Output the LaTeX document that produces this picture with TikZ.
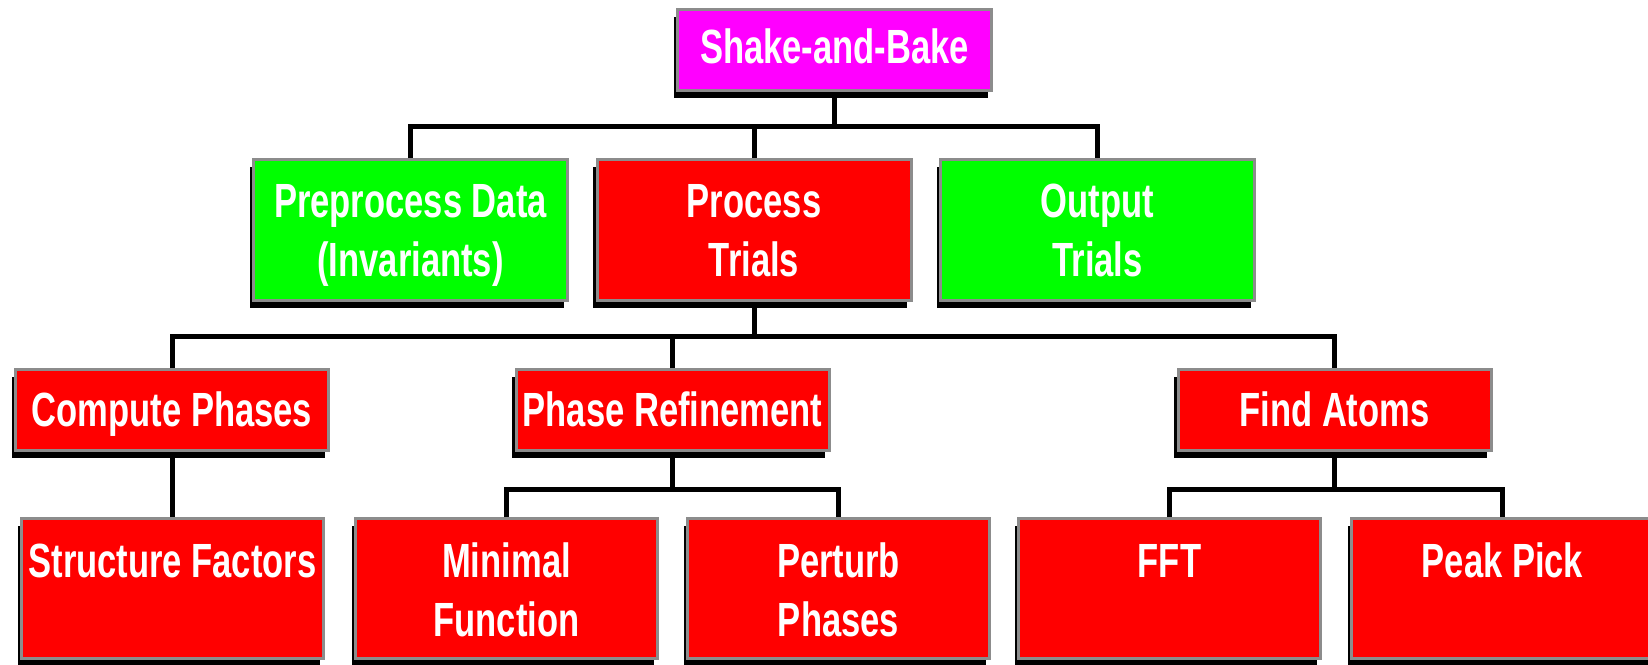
\documentclass[tikz,border=0pt]{standalone}
\usepackage{fontspec}
\newfontfamily\boxfont{Liberation Sans Bold}[FakeStretch=0.72]
\usetikzlibrary{shadows}
\definecolor{mag}{RGB}{255,0,255}
\definecolor{grn}{RGB}{0,255,0}
\definecolor{rd}{RGB}{255,0,0}
\definecolor{bordergray}{RGB}{140,140,140}
% two-line label: top strut height, bottom strut depth
\newcommand{\twolines}[4]{\rule{0pt}{#3}\smash{#1}\\\smash{#2}\rule[-#4]{0pt}{#4}}
\begin{document}
\begin{tikzpicture}[x=1pt,y=-1pt,
  box/.style={draw=bordergray, line width=3pt, text=white,
    font=\boxfont\fontsize{48}{59}\selectfont, align=center, inner sep=0pt,
    drop shadow={shadow xshift=-4pt, shadow yshift=-7pt, fill=black, opacity=1}},
  topbox/.style={box, fill=mag, minimum width=314pt, minimum height=81pt,
    text height=32pt, text depth=6pt},
  lvtwo/.style={box, minimum width=314pt, minimum height=141pt},
  lvthree/.style={box, fill=rd, minimum width=313pt, minimum height=81pt,
    text height=34pt, text depth=2pt},
  lvfour/.style={box, fill=rd, minimum width=302pt, minimum height=140pt},
  conn/.style={line width=5pt, draw=black}]
\fill[white] (0,0) rectangle (1648,664);
\clip (0,0) rectangle (1648,664);
\node[topbox] (shake) at (834.5,50) {Shake-and-Bake};
\node[lvtwo, fill=grn] (pre) at (410.5,230) {\twolines{Preprocess Data}{(Invariants)}{36pt}{3pt}};
\node[lvtwo, fill=rd] (proc) at (754,230) {\twolines{Process}{Trials}{36pt}{3pt}};
\node[lvtwo, fill=grn] (out) at (1097.5,230) {\twolines{Output}{Trials}{36pt}{3pt}};
\node[lvthree] (cp) at (172,410) {Compute Phases};
\node[lvthree] (pr) at (672.5,410) {Phase Refinement};
\node[lvthree] (fa) at (1334.5,410) {Find Atoms};
\node[lvfour] (sf) at (172.5,588.5) {\twolines{Structure Factors}{}{38pt}{2pt}};
\node[lvfour] (mf) at (506.5,588.5) {\twolines{Minimal}{Function}{38pt}{2pt}};
\node[lvfour] (pp) at (838.5,588.5) {\twolines{Perturb}{Phases}{38pt}{2pt}};
\node[lvfour] (fft) at (1169.5,588.5) {\twolines{FFT}{}{38pt}{2pt}};
\node[lvfour] (pk) at (1502.5,588.5) {\twolines{Peak Pick}{}{38pt}{2pt}};
% level 1 -> 2
\draw[conn] (shake.south) -- ++(0,34) coordinate (b1);
\draw[conn] (pre.north) |- (b1) -| (out.north);
\draw[conn] (proc.north) -- (proc.north |- b1);
% level 2 -> 3
\draw[conn] (proc.south) -- ++(0,34) coordinate (b2);
\draw[conn] (cp.north) |- (b2) -| (fa.north);
\draw[conn] (pr.north) -- (pr.north |- b2);
% level 3 -> 4
\draw[conn] (cp.south) -- (cp.south |- sf.north);
\draw[conn] (pr.south) -- ++(0,37) coordinate (b3);
\draw[conn] (mf.north) |- (b3) -| (pp.north);
\draw[conn] (fa.south) -- ++(0,37) coordinate (b4);
\draw[conn] (fft.north) |- (b4) -| (pk.north);
\end{tikzpicture}
\end{document}
